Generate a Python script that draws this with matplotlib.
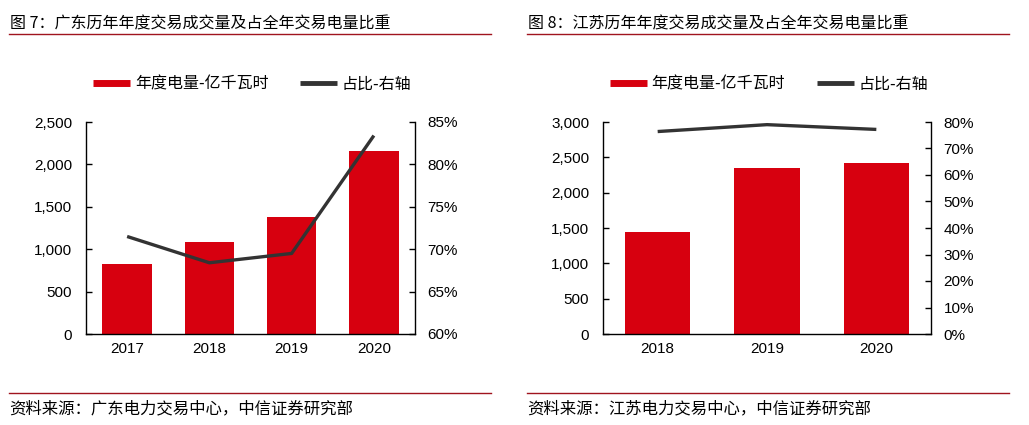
import numpy as np
import matplotlib
matplotlib.use("Agg")
import matplotlib.pyplot as plt
from matplotlib.lines import Line2D
from matplotlib.ticker import FuncFormatter

plt.rcParams['font.family'] = ['Liberation Sans', 'Noto Sans CJK SC', 'DejaVu Sans']
CJK = ['Noto Sans CJK SC', 'DejaVu Sans']

# data
gd_years = ['2017', '2018', '2019', '2020']
gd_volume = [822, 1088, 1385, 2160]        # 亿千瓦时
gd_share = [71.5, 68.4, 69.5, 83.4]        # %

js_years = ['2018', '2019', '2020']
js_volume = [1443, 2351, 2421]
js_share = [76.4, 79.0, 77.2]

titles = ['图 7：广东历年年度交易成交量及占全年交易电量比重',
          '图 8：江苏历年年度交易成交量及占全年交易电量比重']
sources = ['资料来源：广东电力交易中心，中信证券研究部',
           '资料来源：江苏电力交易中心，中信证券研究部']

RED = '#d7000f'
DARK = '#333333'
LINE_RED = '#a0141e'

W, H = 1029, 425
fig = plt.figure(figsize=(W / 100, H / 100), dpi=100)


def px(x, y):
    return x / W, 1 - y / H


def panel(idx, left_px, right_px, years, vol, share, ylim, yticks, rlim, rticks, x0, x1):
    l, _ = px(left_px, 0)
    r, _ = px(right_px, 0)
    _, top = px(0, 122)
    _, bot = px(0, 334)
    ax = fig.add_axes([l, bot, r - l, top - bot])
    x = np.arange(len(years))
    ax.bar(x, vol, width=0.6, color=RED, zorder=2)
    ax.set_xlim(-0.5, len(years) - 0.5)
    ax.set_ylim(*ylim)
    ax.set_yticks(yticks)
    ax.yaxis.set_major_formatter(FuncFormatter(lambda v, p: f'{v:,.0f}'))
    ax.set_xticks(x)
    ax.set_xticklabels(years)
    ax.tick_params(axis='x', length=0, pad=6, labelsize=11)
    ax.tick_params(axis='y', direction='in', length=4, width=1, pad=10, labelsize=11)
    for s in ['top', 'right']:
        ax.spines[s].set_visible(False)
    for s in ['left', 'bottom']:
        ax.spines[s].set_linewidth(1)

    ax2 = ax.twinx()
    ax2.plot(x, share, color=DARK, lw=2.4, solid_capstyle='butt', zorder=3)
    ax2.set_ylim(*rlim)
    ax2.set_yticks(rticks)
    ax2.yaxis.set_major_formatter(FuncFormatter(lambda v, p: f'{v:.0f}%'))
    ax2.tick_params(axis='y', direction='in', length=4, width=1, pad=9, labelsize=11)
    for s in ['top', 'left', 'bottom']:
        ax2.spines[s].set_visible(False)
    ax2.spines['right'].set_linewidth(1)

    handles = [Line2D([], [], color=RED, lw=5, solid_capstyle='butt'),
               Line2D([], [], color=DARK, lw=3.5, solid_capstyle='butt')]
    cx, cy = px((left_px + right_px) / 2 + 2, 84)
    fig.legend(handles, ['年度电量-亿千瓦时', '占比-右轴'], loc='center',
               bbox_to_anchor=(cx, cy), ncol=2, frameon=False,
               prop={'family': CJK, 'size': 11.5}, handlelength=2.3,
               handletextpad=0.3, columnspacing=2.0)

    # header and footer
    tx, ty = px(x0 + 1, 24)
    fig.text(tx, ty, titles[idx], family=CJK, size=11.5, va='center', ha='left')
    a, yl = px(x0, 33.5)
    b, _ = px(x1, 0)
    fig.add_artist(Line2D([a, b], [yl, yl], color=LINE_RED, lw=1))
    _, yf = px(0, 393)
    fig.add_artist(Line2D([a, b], [yf, yf], color=LINE_RED, lw=1))
    _, ys = px(0, 409)
    fig.text(a, ys, sources[idx], family=CJK, size=11.8, va='center', ha='left')


panel(0, 86, 415, gd_years, gd_volume, gd_share, (0, 2500), [0, 500, 1000, 1500, 2000, 2500],
      (60, 85), [60, 65, 70, 75, 80, 85], 9, 491)
panel(1, 603, 931, js_years, js_volume, js_share, (0, 3000), [0, 500, 1000, 1500, 2000, 2500, 3000],
      (0, 80), [0, 10, 20, 30, 40, 50, 60, 70, 80], 527, 1009)

fig.savefig('out.png', dpi=100)
